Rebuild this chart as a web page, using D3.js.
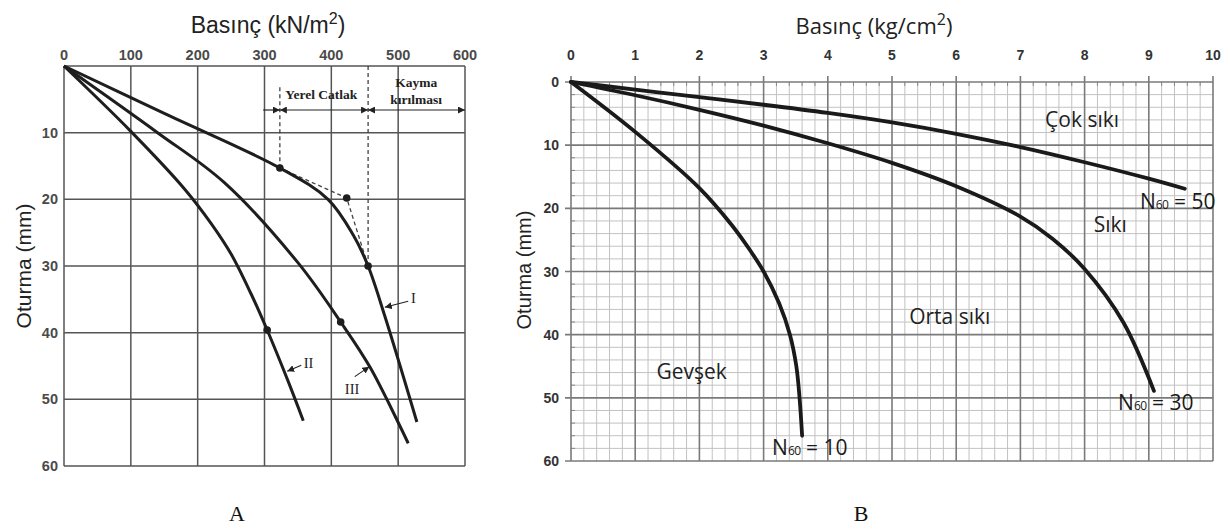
<!DOCTYPE html>
<html>
<head>
<meta charset="utf-8">
<script src="https://cdn.jsdelivr.net/npm/d3@7"></script>
<style>
  body { margin: 0; background: #fff; }
  svg { display: block; }
</style>
</head>
<body>
<svg id="chart" width="1232" height="529"></svg>
<script>
// ---- panel A data (pressure kN/m2, settlement mm) ----
const aTicksX = [0, 100, 200, 300, 400, 500, 600];
const aTicksY = [0, 10, 20, 30, 40, 50, 60];
const curveI = [[0,0],[150,7.1],[323,15.3],[395,20],[433,25.4],[455,30],[480,37.5],[528,53.4]];
const curveII = [[0,0],[100,9.8],[180,18.4],[220,23.6],[250,28.2],[280,34.2],[304,39.6],[335,47.2],[358,53.2]];
const curveIII = [[0,0],[140,10],[240,17.5],[350,29.5],[414,38.4],[458,45.2],[515,56.6]];
const aDashed = [[323,15.3],[423,19.8],[455,30]];
const aDots = [[323,15.3],[423,19.8],[455,30],[414,38.4],[304,39.6]];
const aLimits = [323, 455];   // Yerel Catlak / Kayma kirilmasi boundaries

// ---- panel B data (pressure kg/cm2, settlement mm) ----
const bTicksX = [0, 1, 2, 3, 4, 5, 6, 7, 8, 9, 10];
const bTicksY = [0, 10, 20, 30, 40, 50, 60];
const n50 = [[0,0],[1,1.2],[2,2.4],[3,3.6],[4,4.9],[5,6.4],[6,8.2],[7,10.3],[8,12.7],[9,15.3],[9.56,16.9]];
const n30 = [[0,0],[1,2.1],[2,4.4],[3,6.9],[4,9.7],[5,12.8],[6,16.5],[7,21.3],[7.5,24.8],[8,29.6],[8.6,38],[9.08,48.9]];
const n10 = [[0,0],[1,7.9],[2,16.8],[2.5,22.6],[2.8,26.8],[3,30],[3.24,35],[3.41,40],[3.51,45],[3.56,50],[3.6,56]];

const svg = d3.select("#chart");
const line = (x, y) => d3.line().x(d => x(d[0])).y(d => y(d[1])).curve(d3.curveCatmullRom.alpha(0.5));

// arrow marker
const defs = svg.append("defs");
defs.append("marker").attr("id", "tri").attr("viewBox", "0 0 10 10")
  .attr("refX", 10).attr("refY", 5).attr("markerWidth", 7).attr("markerHeight", 7)
  .attr("markerUnits", "userSpaceOnUse").attr("orient", "auto-start-reverse")
  .append("path").attr("d", "M0,0L10,5L0,10Z").attr("fill", "#222");

// ================= PANEL A =================
const xA = d3.scaleLinear().domain([0, 600]).range([64, 465]);
const yA = d3.scaleLinear().domain([0, 60]).range([66, 466]);
const gA = svg.append("g");

gA.selectAll(".gx").data(aTicksX).enter().append("line")
  .attr("x1", d => xA(d)).attr("x2", d => xA(d)).attr("y1", yA(0)).attr("y2", yA(60))
  .attr("stroke", "#555").attr("stroke-width", 1.5);
gA.selectAll(".gy").data(aTicksY).enter().append("line")
  .attr("y1", d => yA(d)).attr("y2", d => yA(d)).attr("x1", xA(0)).attr("x2", xA(600))
  .attr("stroke", "#555").attr("stroke-width", 1.5);

gA.selectAll(".tx").data(aTicksX).enter().append("text")
  .attr("x", d => xA(d)).attr("y", 60).attr("text-anchor", "middle")
  .attr("font-family", "Liberation Sans, Arial").attr("font-weight", "bold").attr("font-size", 14.5)
  .attr("fill", "#4a4a4a").text(d => d);
gA.selectAll(".ty").data(aTicksY.slice(1)).enter().append("text")
  .attr("x", 58).attr("y", d => yA(d) + 5).attr("text-anchor", "end")
  .attr("font-family", "Liberation Sans, Arial").attr("font-weight", "bold").attr("font-size", 14.5)
  .attr("fill", "#4a4a4a").text(d => d);

const tA = gA.append("text").attr("x", 268).attr("y", 33).attr("text-anchor", "middle")
  .attr("font-family", "Liberation Sans, Arial").attr("font-size", 23).attr("fill", "#222");
tA.append("tspan").text("Basınç (kN/m");
tA.append("tspan").attr("dy", -9).attr("font-size", 16).text("2");
tA.append("tspan").attr("dy", 9).text(")");

gA.append("text").attr("transform", "translate(31,266) rotate(-90)").attr("text-anchor", "middle")
  .attr("font-family", "Liberation Sans, Arial").attr("font-size", 21).attr("fill", "#222")
  .text("Oturma (mm)");

// limit dashed lines
gA.append("line").attr("x1", xA(aLimits[0])).attr("x2", xA(aLimits[0]))
  .attr("y1", yA(3.2)).attr("y2", yA(15.3))
  .attr("stroke", "#333").attr("stroke-width", 1.2).attr("stroke-dasharray", "4,3");
gA.append("line").attr("x1", xA(aLimits[1])).attr("x2", xA(aLimits[1]))
  .attr("y1", yA(0)).attr("y2", yA(29))
  .attr("stroke", "#333").attr("stroke-width", 1.2).attr("stroke-dasharray", "4,3");

// zone arrows
const rowY = yA(6.6);
const seg = (a, b, startHead, endHead) => {
  const l = gA.append("line").attr("x1", xA(a)).attr("x2", xA(b)).attr("y1", rowY).attr("y2", rowY)
    .attr("stroke", "#222").attr("stroke-width", 1.2);
  if (startHead) l.attr("marker-start", "url(#tri)");
  if (endHead) l.attr("marker-end", "url(#tri)");
};
seg(298, aLimits[0], false, true);
seg(aLimits[0], aLimits[1], true, true);
seg(aLimits[1], 600, true, true);

const serif = "Liberation Serif, Times New Roman, serif";
const note = (t, x, y) => gA.append("text").attr("x", xA(x)).attr("y", yA(y)).attr("text-anchor", "middle")
  .attr("font-family", serif).attr("font-weight", "bold").attr("font-size", 13.5).attr("fill", "#222").text(t);
note("Yerel Catlak", 385, 4.95);
note("Kayma", 527, 3.15);
note("kırılması", 527, 5.7);

// dashed path
gA.append("path").datum(aDashed)
  .attr("d", d3.line().x(d => xA(d[0])).y(d => yA(d[1])))
  .attr("fill", "none").attr("stroke", "#444").attr("stroke-width", 1.3).attr("stroke-dasharray", "4,3");

// curves
[curveI, curveII, curveIII].forEach(c => {
  gA.append("path").datum(c).attr("d", line(xA, yA))
    .attr("fill", "none").attr("stroke", "#1e1e1e").attr("stroke-width", 3);
});
gA.selectAll(".dot").data(aDots).enter().append("circle")
  .attr("cx", d => xA(d[0])).attr("cy", d => yA(d[1])).attr("r", 3.8).attr("fill", "#1e1e1e");

// curve labels with leader arrows
const aLabels = [
  { t: "I", x: 523, y: 34.8, from: [515, 35.3], to: [480, 36.2] },
  { t: "II", x: 366, y: 44.6, from: [355, 44.9], to: [334, 45.8] },
  { t: "III", x: 431, y: 48.4, from: [435, 46.6], to: [457, 45.1] }
];
aLabels.forEach(l => {
  gA.append("line").attr("x1", xA(l.from[0])).attr("y1", yA(l.from[1]))
    .attr("x2", xA(l.to[0])).attr("y2", yA(l.to[1]))
    .attr("stroke", "#222").attr("stroke-width", 1.1).attr("marker-end", "url(#tri)");
  gA.append("text").attr("x", xA(l.x)).attr("y", yA(l.y) + 5).attr("text-anchor", "middle")
    .attr("font-family", serif).attr("font-size", 14.5).attr("fill", "#222").text(l.t);
});

gA.append("text").attr("x", 237).attr("y", 521).attr("text-anchor", "middle")
  .attr("font-family", serif).attr("font-size", 22).attr("fill", "#111").text("A");

// ================= PANEL B =================
const xB = d3.scaleLinear().domain([0, 10]).range([571, 1213]);
const yB = d3.scaleLinear().domain([0, 60]).range([82, 461]);
const gB = svg.append("g");

const minorX = d3.range(0, 10.001, 0.2).filter(v => Math.abs(v - Math.round(v)) > 0.01);
const minorY = d3.range(0, 60.001, 2).filter(v => v % 10 !== 0);

gB.selectAll(".mx").data(minorX).enter().append("line")
  .attr("x1", d => xB(d)).attr("x2", d => xB(d)).attr("y1", yB(0)).attr("y2", yB(60))
  .attr("stroke", "#c2c2c2").attr("stroke-width", 1);
gB.selectAll(".my").data(minorY).enter().append("line")
  .attr("y1", d => yB(d)).attr("y2", d => yB(d)).attr("x1", xB(0)).attr("x2", xB(10))
  .attr("stroke", "#c2c2c2").attr("stroke-width", 1);
// small minor ticks along top and left edges
gB.selectAll(".mtx").data(minorX).enter().append("line")
  .attr("x1", d => xB(d)).attr("x2", d => xB(d)).attr("y1", yB(0)).attr("y2", yB(0) + 4)
  .attr("stroke", "#888").attr("stroke-width", 1);
gB.selectAll(".mty").data(minorY).enter().append("line")
  .attr("y1", d => yB(d)).attr("y2", d => yB(d)).attr("x1", xB(0)).attr("x2", xB(0) + 4)
  .attr("stroke", "#888").attr("stroke-width", 1);

gB.selectAll(".gx").data(bTicksX).enter().append("line")
  .attr("x1", d => xB(d)).attr("x2", d => xB(d)).attr("y1", yB(0) - 6).attr("y2", yB(60))
  .attr("stroke", "#7a7a7a").attr("stroke-width", 1.6);
gB.selectAll(".gy").data(bTicksY).enter().append("line")
  .attr("y1", d => yB(d)).attr("y2", d => yB(d)).attr("x1", xB(0) - 6).attr("x2", xB(10))
  .attr("stroke", "#7a7a7a").attr("stroke-width", 1.6);

gB.selectAll(".tx").data(bTicksX).enter().append("text")
  .attr("x", d => xB(d)).attr("y", 60).attr("text-anchor", "middle")
  .attr("font-family", "Liberation Sans, Arial").attr("font-weight", "bold").attr("font-size", 14)
  .attr("fill", "#333").text(d => d);
gB.selectAll(".ty").data(bTicksY).enter().append("text")
  .attr("x", 559).attr("y", d => yB(d) + 5).attr("text-anchor", "end")
  .attr("font-family", "Liberation Sans, Arial").attr("font-weight", "bold").attr("font-size", 14)
  .attr("fill", "#333").text(d => d);

const sans = "Open Sans, Noto Sans, sans-serif";
const tB = gB.append("text").attr("x", 874).attr("y", 34).attr("text-anchor", "middle")
  .attr("font-family", sans).attr("font-size", 22).attr("fill", "#222");
tB.append("tspan").text("Basınç (kg/cm");
tB.append("tspan").attr("dy", -9).attr("font-size", 16).text("2");
tB.append("tspan").attr("dy", 9).text(")");

gB.append("text").attr("transform", "translate(531,270) rotate(-90)").attr("text-anchor", "middle")
  .attr("font-family", "Liberation Sans, Arial").attr("font-size", 20).attr("fill", "#222")
  .text("Oturma (mm)");

[n50, n30, n10].forEach(c => {
  gB.append("path").datum(c).attr("d", line(xB, yB))
    .attr("fill", "none").attr("stroke", "#1a1a1a").attr("stroke-width", 3.8).attr("stroke-linecap", "round");
});

const zoneLabels = [
  { t: "Çok sıkı", x: 7.96, y: 6.0 },
  { t: "Sıkı", x: 8.4, y: 22.6 },
  { t: "Orta sıkı", x: 5.9, y: 37.2 },
  { t: "Gevşek", x: 1.88, y: 45.9 }
];
zoneLabels.forEach(l => {
  gB.append("text").attr("x", xB(l.x)).attr("y", yB(l.y) + 7).attr("text-anchor", "middle")
    .attr("font-family", sans).attr("font-size", 21).attr("fill", "#222").text(l.t);
});

const nLabels = [
  { n: "50", x: 9.45, y: 19.0 },
  { n: "30", x: 9.11, y: 50.8 },
  { n: "10", x: 3.72, y: 57.9 }
];
nLabels.forEach(l => {
  const t = gB.append("text").attr("x", xB(l.x)).attr("y", yB(l.y) + 7).attr("text-anchor", "middle")
    .attr("font-family", sans).attr("font-size", 21).attr("fill", "#1a1a1a");
  t.append("tspan").text("N");
  t.append("tspan").attr("font-size", 12).attr("letter-spacing", -0.5).text("60");
  t.append("tspan").text(" = " + l.n);
});

gB.append("text").attr("x", 861).attr("y", 521).attr("text-anchor", "middle")
  .attr("font-family", serif).attr("font-size", 22).attr("fill", "#111").text("B");
</script>
</body>
</html>
